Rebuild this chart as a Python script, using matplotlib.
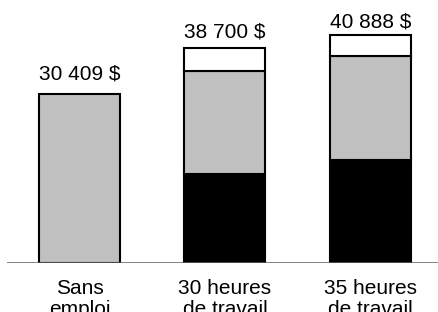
import matplotlib
matplotlib.use("Agg")
import matplotlib.pyplot as plt
import numpy as np

categories = ["Sans\nemploi", "30 heures\nde travail", "35 heures\nde travail"]
black_part = [0, 16000, 18500]
gray_part = [30409, 18550, 18650]
white_part = [0, 4150, 3738]
totals = [30409, 38700, 40888]
total_labels = ["30 409 $", "38 700 $", "40 888 $"]

plt.rcParams['font.family'] = ['Liberation Sans', 'DejaVu Sans']

W, H = 439, 312
fig = plt.figure(figsize=(W / 100, H / 100), dpi=100)
ax = fig.add_axes([7.3 / W, 49 / H, (W - 7.3) / W, (H - 49) / H])

x = np.arange(len(categories))
bw = 0.557
b = np.array(black_part)
g = np.array(gray_part)
w = np.array(white_part)

for i in range(len(x)):
    if b[i] > 0:
        ax.bar(x[i], b[i], width=bw, color="black", edgecolor="black", linewidth=1.5, zorder=2)
    if g[i] > 0:
        ax.bar(x[i], g[i], bottom=b[i], width=bw, color="#c0c0c0", edgecolor="black", linewidth=1.5, zorder=2)
    if w[i] > 0:
        ax.bar(x[i], w[i], bottom=b[i] + g[i], width=bw, color="white", edgecolor="black", linewidth=1.5, zorder=2)

pads_px = [14.4, 10.4, 7.7]
for i in range(len(x)):
    ax.annotate(total_labels[i], (x[i], totals[i]), xytext=(0, pads_px[i] * 0.72),
                textcoords="offset points", ha="center", va="baseline", fontsize=15)

ax.set_xlim(-0.498, 2.473)
ax.set_ylim(0, 47243)
ax.axhline(0, color="#606060", linewidth=1.1, zorder=3)
for s in ax.spines.values():
    s.set_visible(False)
ax.set_yticks([])
ax.set_xticks(x)
ax.set_xticklabels(categories, fontsize=15, linespacing=1.15)
ax.tick_params(axis="x", length=0, pad=11.5)

fig.savefig("out.png", dpi=100)
